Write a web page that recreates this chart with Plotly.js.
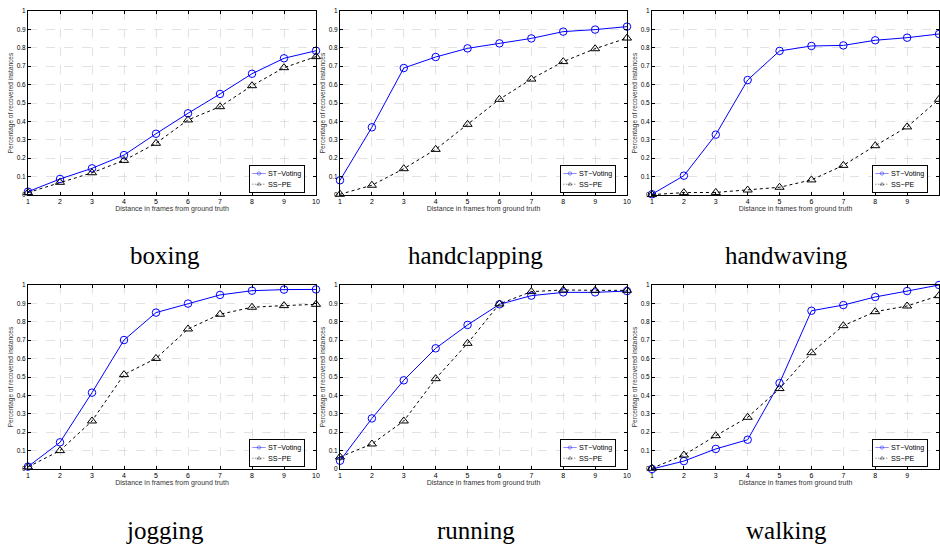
<!DOCTYPE html>
<html>
<head>
<meta charset="utf-8">
<script src="https://cdn.plot.ly/plotly-3.0.1.min.js"></script>
<style>html,body{margin:0;padding:0;background:#fff;}#chart{width:940px;height:544px;}</style>
</head>
<body>
<div id="chart"></div>
<script>
const distances = [1, 2, 3, 4, 5, 6, 7, 8, 9, 10];
const actions = ["boxing", "handclapping", "handwaving", "jogging", "running", "walking"];
const seriesNames = ["ST\u2212Voting", "SS\u2212PE"];

const boxingST = [0.018, 0.087, 0.145, 0.217, 0.333, 0.444, 0.549, 0.659, 0.743, 0.784];
const boxingSS = [0.013, 0.069, 0.121, 0.188, 0.281, 0.408, 0.480, 0.594, 0.692, 0.752];
const handclappingST = [0.080, 0.368, 0.690, 0.750, 0.797, 0.824, 0.851, 0.888, 0.899, 0.915];
const handclappingSS = [0.004, 0.053, 0.143, 0.248, 0.384, 0.520, 0.630, 0.725, 0.795, 0.853];
const handwavingST = [0.004, 0.105, 0.328, 0.625, 0.783, 0.810, 0.813, 0.841, 0.855, 0.875];
const handwavingSS = [0.002, 0.013, 0.014, 0.027, 0.042, 0.082, 0.161, 0.268, 0.370, 0.520];
const joggingST = [0.013, 0.145, 0.415, 0.701, 0.850, 0.899, 0.946, 0.969, 0.975, 0.976];
const joggingSS = [0.011, 0.100, 0.261, 0.513, 0.601, 0.761, 0.841, 0.879, 0.888, 0.895];
const runningST = [0.045, 0.275, 0.482, 0.656, 0.783, 0.895, 0.942, 0.960, 0.960, 0.967];
const runningSS = [0.065, 0.136, 0.261, 0.491, 0.683, 0.897, 0.964, 0.973, 0.971, 0.971];
const walkingST = [0.000, 0.043, 0.109, 0.159, 0.467, 0.860, 0.891, 0.935, 0.967, 1.000];
const walkingSS = [0.004, 0.076, 0.181, 0.281, 0.437, 0.632, 0.779, 0.855, 0.886, 0.942];

const stData = [boxingST, handclappingST, handwavingST, joggingST, runningST, walkingST];
const ssData = [boxingSS, handclappingSS, handwavingSS, joggingSS, runningSS, walkingSS];

const W = 940, H = 544;
// pixel boxes of the plot areas
const colL = [28, 340, 652], colR = [316, 627, 939];
const rowT = [11, 285], rowB = [195, 469];
const titleX = [165, 476, 786], titleY = [255, 530];
const LEGEND_SCALE = 0.45;

const axisFont = {family: "Liberation Sans, Arial, sans-serif", size: 6.5, color: "#000"};
const traces = [];
const layout = {
  width: W, height: H,
  margin: {l: 0, r: 0, t: 0, b: 0},
  paper_bgcolor: "#fff", plot_bgcolor: "#fff",
  font: axisFont,
  annotations: [],
  showlegend: true
};

for (let i = 0; i < 6; i++) {
  const r = Math.floor(i / 3), c = i % 3;
  const n = i + 1;
  const xa = n === 1 ? "x" : "x" + n, ya = n === 1 ? "y" : "y" + n;
  const xk = n === 1 ? "xaxis" : "xaxis" + n, yk = n === 1 ? "yaxis" : "yaxis" + n;
  const lg = n === 1 ? "legend" : "legend" + n;
  traces.push({
    x: distances, y: stData[i], xaxis: xa, yaxis: ya, legend: lg,
    name: seriesNames[0], type: "scatter", mode: "lines+markers", cliponaxis: false,
    line: {color: "#0000ff", width: 1},
    marker: {symbol: "circle-open", size: 7.5, color: "#0000ff", line: {width: 1, color: "#0000ff"}}
  });
  traces.push({
    x: distances, y: ssData[i], xaxis: xa, yaxis: ya, legend: lg,
    name: seriesNames[1], type: "scatter", mode: "lines+markers", cliponaxis: false,
    line: {color: "#000", width: 1, dash: "dot"},
    marker: {symbol: "triangle-up-open", size: 8, color: "#000", line: {width: 1, color: "#000"}}
  });
  layout[xk] = {
    domain: [colL[c] / W, colR[c] / W], anchor: ya,
    range: [1, 10], tickvals: distances, ticktext: distances.map(String),
    showline: true, mirror: "ticks", linecolor: "#000", linewidth: 1,
    ticks: "inside", ticklen: 3, tickcolor: "#000",
    showgrid: true, gridcolor: "#cfcfcf", griddash: "dash", gridwidth: 0.6,
    zeroline: false, tickfont: {family: axisFont.family, size: 7, color: "#000"},
    title: {text: "Distance in frames from ground truth", font: {family: axisFont.family, size: 7, color: "#333"}, standoff: 0}
  };
  layout[yk] = {
    domain: [1 - rowB[r] / H, 1 - rowT[r] / H], anchor: xa,
    range: [0, 1], tickvals: [0, 0.1, 0.2, 0.3, 0.4, 0.5, 0.6, 0.7, 0.8, 0.9, 1],
    ticktext: ["0", "0.1", "0.2", "0.3", "0.4", "0.5", "0.6", "0.7", "0.8", "0.9", "1"],
    showline: true, mirror: "ticks", linecolor: "#000", linewidth: 1,
    ticks: "inside", ticklen: 3, tickcolor: "#000",
    showgrid: true, gridcolor: "#cfcfcf", griddash: "dash", gridwidth: 0.6,
    zeroline: false, tickfont: {family: axisFont.family, size: 6.5, color: "#000"},
    title: {text: "Percentage of recovered instances", font: {family: axisFont.family, size: 6.5, color: "#333"}, standoff: 2}
  };
  layout[lg] = {
    x: (colR[c] - 10) / W, y: 1 - (rowB[r] - 1) / H,
    xanchor: "right", yanchor: "bottom", xref: "paper", yref: "paper",
    bgcolor: "#fff", bordercolor: "#000", borderwidth: 2.2,
    font: {family: axisFont.family, size: 16, color: "#000"},
    itemwidth: 30, tracegroupgap: 0
  };
  layout.annotations.push({
    text: actions[i], xref: "paper", yref: "paper",
    x: titleX[c] / W, y: 1 - titleY[r] / H, xanchor: "center", yanchor: "middle",
    showarrow: false, font: {family: "Liberation Serif, Times New Roman, serif", size: 25, color: "#000"}
  });
}

Plotly.newPlot("chart", traces, layout, {displayModeBar: false, staticPlot: true}).then(function () {
  // shrink each legend box (MATLAB-style compact legend), keeping its bottom-right corner fixed
  const ids = ["legend", "legend2", "legend3", "legend4", "legend5", "legend6"];
  ids.forEach(function (id) {
    const g = document.querySelector("#chart g." + id);
    if (!g) return;
    const t = g.getAttribute("transform") || "";
    const m = t.match(/translate\(\s*([-\d.]+)[ ,]+([-\d.]+)\s*\)/);
    if (!m) return;
    const tx = parseFloat(m[1]), ty = parseFloat(m[2]);
    const bg = g.querySelector("rect.bg");
    let bw, bh;
    if (bg) { bw = parseFloat(bg.getAttribute("width")); bh = parseFloat(bg.getAttribute("height")); }
    else { const bb = g.getBBox(); bw = bb.width; bh = bb.height; }
    const s = LEGEND_SCALE;
    g.setAttribute("transform", "translate(" + (tx + bw * (1 - s)) + "," + (ty + bh * (1 - s)) + ") scale(" + s + ")");
  });
});
</script>
</body>
</html>
